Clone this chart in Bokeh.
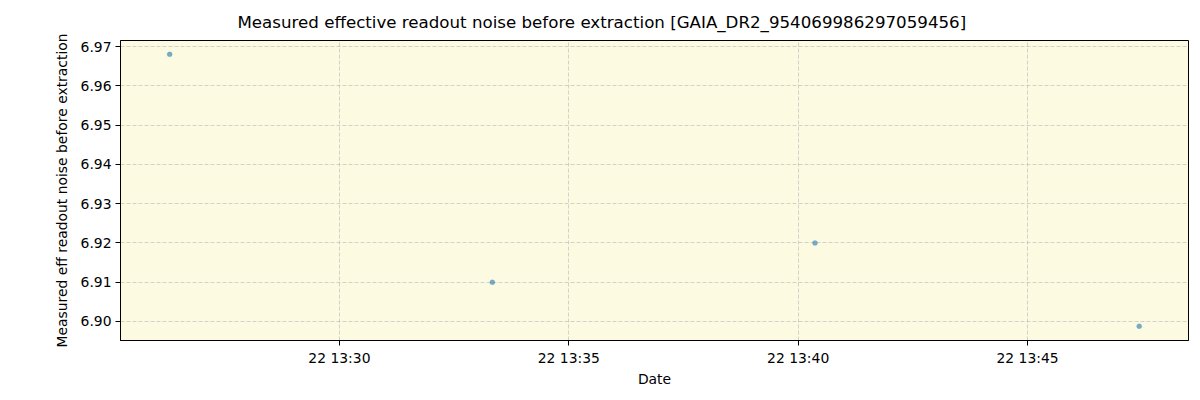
import pandas as pd
from bokeh.plotting import figure
from bokeh.models import FixedTicker, DatetimeTickFormatter, PrintfTickFormatter, ColumnDataSource
from bokeh.embed import file_html
from bokeh.resources import INLINE

# data
dates = ["2019-10-22 13:26:18", "2019-10-22 13:33:20", "2019-10-22 13:40:22", "2019-10-22 13:47:26"]
noise = [6.968, 6.910, 6.920, 6.8988]
x_tick_labels = ["2019-10-22 13:30", "2019-10-22 13:35", "2019-10-22 13:40", "2019-10-22 13:45"]
y_ticks = [6.90, 6.91, 6.92, 6.93, 6.94, 6.95, 6.96, 6.97]
x_range_limits = ["2019-10-22 13:25:13.7", "2019-10-22 13:48:30.5"]
y_range_limits = [6.89516, 6.97153]

title_text = "Measured effective readout noise before extraction [GAIA_DR2_954069986297059456]"
FONT = "DejaVu Sans"

dt = pd.to_datetime(dates)
src = ColumnDataSource(dict(x=dt, y=noise))

xr = pd.to_datetime(x_range_limits)
p = figure(width=1192, height=392, output_backend="svg", toolbar_location=None,
           x_axis_type="datetime",
           x_range=(xr[0], xr[1]), y_range=(y_range_limits[0], y_range_limits[1]),
           min_border_left=120, min_border_right=4, min_border_top=40, min_border_bottom=52,
           background_fill_color="#fcfae1", border_fill_color="white")

p.scatter("x", "y", source=src, size=5, fill_color="#1f77b4", fill_alpha=0.6,
          line_color="#1f77b4", line_alpha=0.3, line_width=0.5)

# title
p.title.text = title_text
p.title.text_font = FONT
p.title.text_font_size = "16.67px"
p.title.text_font_style = "normal"
p.title.text_color = "black"
p.title.align = "left"
p.title.offset = 117
p.title.standoff = 18

p.outline_line_color = "black"
p.outline_line_width = 1
p.outline_line_alpha = 1

xt = [pd.Timestamp(t).value / 1e6 for t in x_tick_labels]
p.xaxis.ticker = FixedTicker(ticks=xt)
p.xaxis.formatter = DatetimeTickFormatter(minutes="%d %H:%M", hours="%d %H:%M",
                                          minsec="%d %H:%M", seconds="%d %H:%M")
p.yaxis.ticker = FixedTicker(ticks=y_ticks)
p.yaxis.formatter = PrintfTickFormatter(format="%.2f")

for ax in (p.xaxis, p.yaxis):
    ax.major_label_text_font = FONT
    ax.major_label_text_font_size = "13.9px"
    ax.major_label_text_color = "black"
    ax.axis_label_text_font = FONT
    ax.axis_label_text_font_size = "13.9px"
    ax.axis_label_text_font_style = "normal"
    ax.axis_label_text_color = "black"
    ax.major_tick_out = 5
    ax.major_tick_in = 0
    ax.minor_tick_out = 0
    ax.minor_tick_in = 0
    ax.major_tick_line_color = "black"
    ax.axis_line_color = "black"

p.xaxis.axis_label = "Date"
p.yaxis.axis_label = "Measured eff readout noise before extraction"
p.xaxis.major_label_standoff = 4
p.xaxis.axis_label_standoff = 2
p.yaxis.major_label_standoff = 4
p.yaxis.axis_label_standoff = 8

p.grid.grid_line_color = "#b0b0b0"
p.grid.grid_line_alpha = 0.55
p.grid.grid_line_dash = "4 2"
p.grid.grid_line_width = 1

open("out.html", "w").write(file_html(p, INLINE))
